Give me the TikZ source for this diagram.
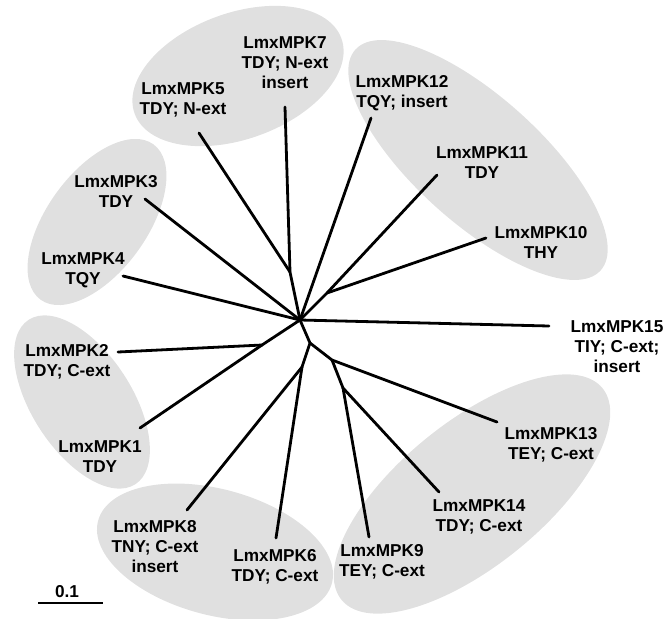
\documentclass[tikz,border=0pt]{standalone}
\usepackage{fontspec}
\setmainfont{Liberation Sans}
\definecolor{ellgray}{RGB}{224,224,224}
\begin{document}
\begin{tikzpicture}[x=0.75pt,y=-0.75pt,
  branch/.style={line width=2.1pt,line cap=round},
  leaf/.style={align=center,inner sep=0pt,font=\fontsize{12.9}{15}\selectfont\bfseries},
  grp/.style={fill=ellgray}]
\useasboundingbox (0,0) rectangle (667,618);
% group ellipses
\fill[grp,rotate around={20:(238,76)}] (238,76) ellipse [x radius=110,y radius=63];
\fill[grp,rotate around={54:(97,222)}] (97,222) ellipse [x radius=96,y radius=50];
\fill[grp,rotate around={-42:(478,160)}] (478,160) ellipse [x radius=165,y radius=63];
\fill[grp,rotate around={-57:(82,402)}] (82,402) ellipse [x radius=98,y radius=50];
\fill[grp,rotate around={-15:(215,552)}] (215,552) ellipse [x radius=121,y radius=63];
\fill[grp,rotate around={39:(472,494)}] (472,494) ellipse [x radius=168,y radius=72];
% labels
\node[leaf] (l7) at (285,63) {LmxMPK7\\TDY; N-ext\\insert};
\node[leaf] (l5) at (183,100) {LmxMPK5\\TDY; N-ext};
\node[leaf] (l3) at (116,191) {LmxMPK3\\TDY};
\node[leaf] (l4) at (83,270) {LmxMPK4\\TQY};
\node[leaf] (l12) at (402,93) {LmxMPK12\\TQY; insert};
\node[leaf] (l11) at (482,163) {LmxMPK11\\TDY};
\node[leaf] (l10) at (541,242) {LmxMPK10\\THY};
\node[leaf] (l15) at (617,347) {LmxMPK15\\TIY; C-ext;\\insert};
\node[leaf] (l13) at (551,445) {LmxMPK13\\TEY; C-ext};
\node[leaf] (l14) at (479,517) {LmxMPK14\\TDY; C-ext};
\node[leaf] (l9) at (382,562) {LmxMPK9\\TEY; C-ext};
\node[leaf] (l2) at (67,362) {LmxMPK2\\TDY; C-ext};
\node[leaf] (l1) at (100,457) {LmxMPK1\\TDY};
\node[leaf] (l8) at (155,547) {LmxMPK8\\TNY; C-ext\\insert};
\node[leaf] (l6) at (275,567) {LmxMPK6\\TDY; C-ext};
\node[leaf] (scale) at (67,592) {0.1};
% tree coordinates
\coordinate (H) at (300,320);
\coordinate (n57) at (290,272);
\coordinate (n1011) at (327,293);
\coordinate (n12) at (262,345);
\coordinate (nA) at (310,343);
\coordinate (nB) at (302,367);
\coordinate (nC) at (332,360);
\coordinate (nD) at (343,388);
\coordinate (e7) at (285,107);
\coordinate (e5) at (199,133);
\coordinate (e3) at (145,199);
\coordinate (e4) at (123,276);
\coordinate (e12) at (371,118);
\coordinate (e11) at (437,175);
\coordinate (e10) at (486,238);
\coordinate (e15) at (549,326);
\coordinate (e13) at (497,422);
\coordinate (e14) at (439,492);
\coordinate (e9) at (369,537);
\coordinate (e2) at (118,352);
\coordinate (e1) at (140,428);
\coordinate (e8) at (187,510);
\coordinate (e6) at (276,538);
\coordinate (s1) at (38,603);
\coordinate (s2) at (103,603);
% branches
\draw[branch] (e7) -- (n57) -- (H);
\draw[branch] (e5) -- (n57);
\draw[branch] (e3) -- (H);
\draw[branch] (e4) -- (H);
\draw[branch] (e12) -- (H);
\draw[branch] (e11) -- (n1011) -- (H);
\draw[branch] (e10) -- (n1011);
\draw[branch] (H) -- (e15);
\draw[branch] (H) -- (nA) -- (nB) -- (e8);
\draw[branch] (nB) -- (e6);
\draw[branch] (nA) -- (nC) -- (e13);
\draw[branch] (nC) -- (nD) -- (e14);
\draw[branch] (nD) -- (e9);
\draw[branch] (e2) -- (n12) -- (H);
\draw[branch] (e1) -- (n12);
\draw[line width=1.5pt] (s1) -- (s2);
\end{tikzpicture}
\end{document}
